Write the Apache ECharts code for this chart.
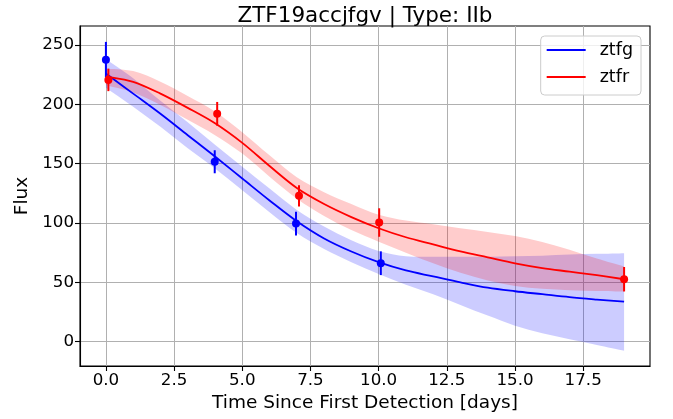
<!DOCTYPE html>
<html><head><meta charset="utf-8">
<script src="https://cdn.jsdelivr.net/npm/echarts@6/dist/echarts.min.js"></script>
<style>html,body{margin:0;padding:0;background:#fff}#c{width:673px;height:419px}</style>
</head><body><div id="c"></div>
<script>
// ---- data ----
const titleText = 'ZTF19accjfgv | Type: IIb';
const xTicks = [0, 2.5, 5, 7.5, 10, 12.5, 15, 17.5];
const yTicks = [0, 50, 100, 150, 200, 250];
const fitDays = [0, 1, 2, 3, 4, 5, 6, 7, 8, 9, 10, 11, 12, 13, 14, 15, 16, 17, 18, 19];
const gMean  = [226, 209, 192, 174, 156, 137.5, 119, 101.5, 87, 76, 67, 60, 55, 50, 45.5, 42.5, 40, 37.5, 35.5, 33.7];
const gUpper = [238, 222, 203, 185, 166, 147.5, 129, 111, 97, 85.5, 76.5, 72, 71.5, 71.5, 71.5, 72, 72.5, 73.5, 74, 74.6];
const gLower = [214, 198, 181, 163, 146, 127.5, 109, 91.5, 78, 67, 57, 48, 40, 31, 22, 13.5, 7, 2, -2.8, -7.6];
const rMean  = [223.5, 219, 209, 197, 184, 167.5, 148, 129.5, 116, 105, 95.6, 88, 82, 76, 71, 66, 62, 59, 56, 52.6];
const rUpper = [230, 228, 219, 207, 194, 176.5, 157, 138.5, 126, 116, 106.9, 102, 99, 95.5, 92.5, 89, 84, 77.5, 70, 63.3];
const rLower = [216, 210, 199.5, 187, 174, 158.5, 139, 120.5, 106, 94, 84.3, 75, 66, 58, 51.5, 47, 44.5, 43.3, 42.7, 42.2];
const gObsX = [0.0, 3.99, 6.97, 10.08];
const gObsY = [237.6, 151.6, 99.5, 66.1];
const gObsErr = [15, 9.7, 10, 10];
const rObsX = [0.09, 4.08, 7.08, 10.02, 19.0];
const rObsY = [220.6, 192, 122.9, 100.4, 52.6];
const rObsErr = [9.5, 10, 9, 12, 10.3];

const FONT = 'DejaVu Sans';
const BLUE = '#0000ff', RED = '#ff0000';

// smooth path geometry (Catmull-Rom -> cubic bezier) through pixel points
function curveThrough(pts, start) {
  let d = (start ? 'M' : 'L') + pts[0][0] + ' ' + pts[0][1];
  for (let i = 0; i < pts.length - 1; i++) {
    const p0 = pts[Math.max(i - 1, 0)], p1 = pts[i], p2 = pts[i + 1], p3 = pts[Math.min(i + 2, pts.length - 1)];
    const c1x = p1[0] + (p2[0] - p0[0]) / 6, c1y = p1[1] + (p2[1] - p0[1]) / 6;
    const c2x = p2[0] - (p3[0] - p1[0]) / 6, c2y = p2[1] - (p3[1] - p1[1]) / 6;
    d += 'C' + c1x + ' ' + c1y + ' ' + c2x + ' ' + c2y + ' ' + p2[0] + ' ' + p2[1];
  }
  return d;
}
function band(name, lower, upper, color, z) {
  return { name: name, type: 'custom', z: z, silent: true, animation: false,
    data: fitDays.map((d, i) => [d, lower[i], upper[i]]),
    encode: { x: 0, y: [1, 2] },
    renderItem: function (params, api) {
      if (params.dataIndex !== 0) return null;
      const up = fitDays.map((d, i) => api.coord([d, upper[i]]));
      const lo = fitDays.map((d, i) => api.coord([d, lower[i]])).reverse();
      const path = curveThrough(up, true) + curveThrough(lo, false) + 'Z';
      return { type: 'path', shape: { pathData: path }, style: { fill: color, stroke: null } };
    } };
}
function meanLine(name, ys, color, z) {
  return { name: name, type: 'custom', z: z, silent: true, animation: false,
    data: fitDays.map((d, i) => [d, ys[i]]), encode: { x: 0, y: 1 },
    renderItem: function (params, api) {
      if (params.dataIndex !== 0) return null;
      const pts = fitDays.map((d, i) => api.coord([d, ys[i]]));
      return { type: 'path', shape: { pathData: curveThrough(pts, true) },
        style: { fill: null, stroke: color, lineWidth: 1.8 } };
    } };
}
function legendLine(name, color) {
  // empty series so the legend shows a line swatch for each band
  return { name: name, type: 'line', data: [], itemStyle: { color: color }, lineStyle: { color: color } };
}
function errBars(name, xs, ys, es, color, z) {
  return { name: name, type: 'custom', data: xs.map((x, i) => [x, ys[i] - es[i], ys[i] + es[i]]),
    encode: { x: 0, y: [1, 2] }, z: z, silent: true, animation: false,
    renderItem: function (params, api) {
      const a = api.coord([api.value(0), api.value(1)]);
      const b = api.coord([api.value(0), api.value(2)]);
      return { type: 'line', shape: { x1: a[0], y1: a[1], x2: b[0], y2: b[1] },
        style: { stroke: color, lineWidth: 2 } };
    } };
}
function points(name, xs, ys, color, z) {
  return { name: name, type: 'scatter', data: xs.map((x, i) => [x, ys[i]]), symbol: 'circle',
    symbolSize: 8, itemStyle: { color: color, opacity: 1 }, z: z, silent: true, animation: false };
}

const chart = echarts.init(document.getElementById('c'), null, { renderer: 'canvas' });
chart.setOption({
  animation: false,
  backgroundColor: '#fff',
  title: { text: titleText, left: 360, top: 0, textAlign: 'center',
    textStyle: { fontFamily: FONT, fontSize: 21.5, fontWeight: 'normal', color: '#000' } },
  grid: { left: 80, right: 23, top: 26, bottom: 53, show: true, borderColor: '#000', borderWidth: 1.1,
    backgroundColor: 'transparent', containLabel: false },
  legend: { orient: 'vertical', right: 32, top: 36,
    data: [{ name: 'ztfg', icon: 'rect' }, { name: 'ztfr', icon: 'rect' }],
    itemWidth: 39, itemHeight: 2, itemGap: 7,
    padding: [4, 8, 8, 6],
    backgroundColor: 'rgba(255,255,255,0.8)', borderColor: '#cccccc', borderWidth: 1, borderRadius: 4,
    textStyle: { fontFamily: FONT, fontSize: 17.5, color: '#000', lineHeight: 20, padding: [0, 0, 0, 9] } },
  xAxis: { type: 'value', min: -0.95, max: 19.95,
    name: 'Time Since First Detection [days]', nameLocation: 'middle', nameGap: 26,
    nameTextStyle: { fontFamily: FONT, fontSize: 18.5, color: '#000' },
    axisLine: { show: true, onZero: false, lineStyle: { color: '#000', width: 1.1 } },
    axisTick: { show: true, inside: false, length: 5, customValues: xTicks, lineStyle: { color: '#000', width: 1.1 } },
    axisLabel: { customValues: xTicks, margin: 6, fontFamily: FONT, fontSize: 16.7, color: '#000',
      formatter: v => v.toFixed(1) },
    splitLine: { show: true, lineStyle: { color: '#b0b0b0', width: 1 } } },
  yAxis: { type: 'value', min: -20.5, max: 266,
    name: 'Flux', nameLocation: 'middle', nameGap: 44,
    nameTextStyle: { fontFamily: FONT, fontSize: 18.5, color: '#000' },
    axisLine: { show: true, onZero: false, lineStyle: { color: '#000', width: 1.1 } },
    axisTick: { show: true, inside: false, length: 5, customValues: yTicks, lineStyle: { color: '#000', width: 1.1 } },
    axisLabel: { customValues: yTicks, margin: 6, fontFamily: FONT, fontSize: 16.7, color: '#000' },
    splitLine: { show: true, lineStyle: { color: '#b0b0b0', width: 1 } } },
  series: [
    legendLine('ztfg', BLUE),
    legendLine('ztfr', RED),
    band('gband', gLower, gUpper, 'rgba(0,0,255,0.2)', 1),
    band('rband', rLower, rUpper, 'rgba(255,0,0,0.2)', 2),
    meanLine('ztfg_mean', gMean, BLUE, 3),
    errBars('ztfg_err', gObsX, gObsY, gObsErr, BLUE, 4),
    points('ztfg_pts', gObsX, gObsY, BLUE, 5),
    meanLine('ztfr_mean', rMean, RED, 6),
    errBars('ztfr_err', rObsX, rObsY, rObsErr, RED, 7),
    points('ztfr_pts', rObsX, rObsY, RED, 8)
  ]
});
</script></body></html>
